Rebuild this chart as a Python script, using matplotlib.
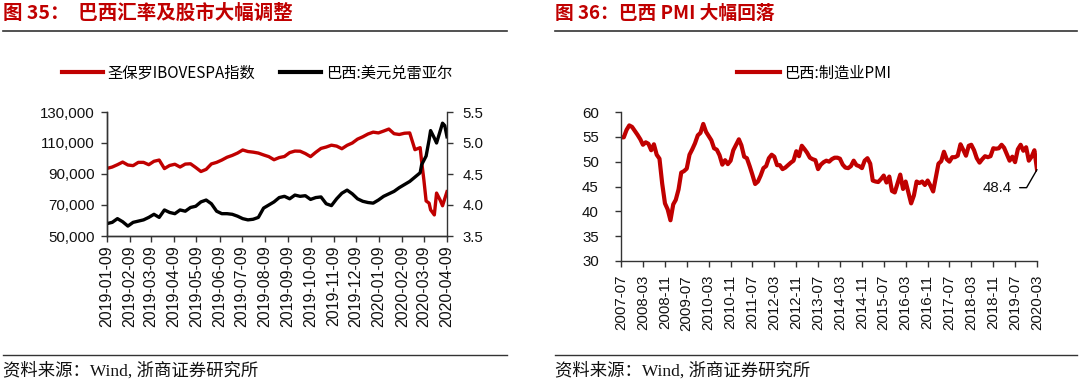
import matplotlib
matplotlib.use('Agg')
import matplotlib.pyplot as plt
import matplotlib.dates as mdates
from matplotlib.lines import Line2D
from matplotlib.ticker import FuncFormatter, FixedLocator
import pandas as pd
import numpy as np

W, H = 1080, 385
RED = '#C00000'
AXC = '#333333'
TICK_FONT = 'Liberation Sans'
CJK = 'Noto Sans CJK SC'
TS = 10.8  # tick label size (pt)

# ---------------- Left chart data ----------------
left_title = '图 35：  巴西汇率及股市大幅调整'
left_series_names = ['圣保罗IBOVESPA指数', '巴西:美元兑雷亚尔']
weekly_dates = pd.date_range('2019-01-09', periods=61, freq='7D')
crash_dates = pd.to_datetime(['2020-03-06', '2020-03-09', '2020-03-12', '2020-03-16',
                              '2020-03-18', '2020-03-23', '2020-03-26', '2020-03-31',
                              '2020-04-03', '2020-04-06', '2020-04-09'])
ibov_weekly_k = [93.6, 94.5, 96.0, 97.7, 95.8, 95.4, 97.5, 97.5, 96.0, 98.2,
                 99.0, 93.5, 95.5, 96.3, 94.5, 96.4, 96.6, 94.2, 91.6, 93.0,
                 96.5, 97.5, 99.0, 100.8, 102.0, 103.5, 105.5, 104.5, 104.1, 103.5,
                 102.3, 101.2, 99.2, 100.6, 101.3, 103.8, 104.8, 104.7, 103.2, 101.2,
                 104.0, 106.5, 107.4, 108.6, 108.0, 106.3, 108.5, 110.0, 112.5, 114.0,
                 115.8, 117.0, 116.5, 117.7, 119.0, 116.0, 115.5, 116.3, 116.5, 105.7,
                 107.0]
ibov_crash_k = [98.0, 86.1, 72.6, 71.2, 66.9, 63.6, 77.7, 73.0, 69.5, 74.1, 78.6]
brl_weekly = [3.70, 3.72, 3.78, 3.73, 3.66, 3.72, 3.74, 3.76, 3.80, 3.85,
              3.80, 3.92, 3.88, 3.86, 3.92, 3.90, 3.96, 3.98, 4.05, 4.08,
              4.02, 3.90, 3.86, 3.86, 3.85, 3.82, 3.78, 3.76, 3.77, 3.80,
              3.95, 4.00, 4.05, 4.12, 4.14, 4.10, 4.16, 4.14, 4.15, 4.09,
              4.12, 4.13, 4.02, 3.99, 4.10, 4.19, 4.24, 4.18, 4.10, 4.06,
              4.04, 4.03, 4.08, 4.14, 4.18, 4.22, 4.28, 4.33, 4.38, 4.45,
              4.52]
brl_crash = [4.65, 4.72, 4.79, 5.05, 5.20, 5.08, 5.00, 5.20, 5.32, 5.28, 5.10]
left_y1_ticks = [50000, 70000, 90000, 110000, 130000]
left_y2_ticks = [3.5, 4.0, 4.5, 5.0, 5.5]
left_x_ticks = pd.date_range('2019-01-01', periods=16, freq='MS') + pd.Timedelta(days=8)

# ---------------- Right chart data ----------------
right_title = '图 36：巴西 PMI 大幅回落'
right_series_name = '巴西:制造业PMI'
pmi_dates = pd.date_range('2007-07-01', periods=153, freq='MS')
pmi = [54.9, 54.9, 56.4, 57.3, 57.0, 56.2, 55.4, 54.5, 53.4, 53.9,
       53.6, 52.3, 53.5, 51.4, 50.6, 45.6, 41.6, 40.4, 38.2, 41.4,
       42.3, 44.4, 47.8, 48.1, 48.6, 51.4, 52.5, 53.7, 55.3, 55.8,
       57.6, 56.0, 55.2, 54.3, 52.7, 52.4, 51.3, 49.4, 50.3, 49.5,
       50.2, 52.3, 53.4, 54.5, 53.3, 51.0, 50.7, 49.1, 47.4, 45.5,
       46.0, 47.2, 48.7, 49.1, 50.7, 51.4, 51.0, 49.3, 49.3, 48.5,
       48.8, 49.3, 49.8, 50.2, 52.1, 51.1, 53.2, 52.5, 51.8, 50.8,
       50.5, 50.3, 48.5, 49.4, 49.9, 50.2, 50.0, 50.5, 50.8, 50.8,
       50.6, 49.4, 48.8, 48.7, 49.1, 50.2, 49.3, 49.1, 48.7, 50.2,
       50.7, 49.6, 46.2, 46.0, 45.9, 46.5, 47.2, 45.8, 47.0, 44.1,
       43.8, 45.6, 47.4, 44.5, 46.0, 43.8, 41.6, 43.2, 46.0, 45.7,
       46.0, 45.3, 46.2, 45.2, 44.0, 46.9, 49.6, 50.1, 52.0, 50.5,
       50.0, 50.9, 50.9, 51.2, 53.5, 52.4, 51.2, 53.2, 53.4, 52.3,
       50.7, 49.8, 50.5, 51.1, 50.9, 51.1, 52.7, 52.6, 52.7, 53.4,
       52.8, 51.5, 50.2, 51.0, 49.9, 52.5, 53.4, 52.2, 52.9, 50.2,
       51.0, 52.3, 48.4]
right_y_ticks = [30, 35, 40, 45, 50, 55, 60]
right_x_ticks = pmi_dates[::8]

source_text = '资料来源：Wind, 浙商证券研究所'

# ---------------- Figure ----------------
fig = plt.figure(figsize=(W / 100, H / 100), dpi=100)
fig.patch.set_facecolor('white')


def fx(px):
    return px / W


def fy(py):
    return 1 - py / H


def style_ticks(ax, axis, pad, size=TS):
    ax.tick_params(axis=axis, direction='out', length=4, width=1, color=AXC,
                   labelsize=size, labelcolor='#111111', pad=pad)


# ----- Left chart -----
ax1 = fig.add_axes([fx(107), fy(236), fx(340), 124 / H])
ax2 = ax1.twinx()
ibov_dates = weekly_dates.append(crash_dates)
ibov = np.array(ibov_weekly_k + ibov_crash_k) * 1000
brl = np.array(brl_weekly + brl_crash)
l1, = ax1.plot(ibov_dates, ibov, color=RED, lw=2.4, solid_joinstyle='round')
l2, = ax2.plot(ibov_dates, brl, color='black', lw=2.4, solid_joinstyle='round')
ax1.set_ylim(50000, 130000)
ax2.set_ylim(3.5, 5.5)
ax1.set_xlim(left_x_ticks[0], left_x_ticks[-1])
ax1.set_yticks(left_y1_ticks)
ax1.yaxis.set_major_formatter(FuncFormatter(lambda v, p: f'{int(v):,}'))
ax2.set_yticks(left_y2_ticks)
ax2.yaxis.set_major_formatter(FuncFormatter(lambda v, p: f'{v:.1f}'))
ax1.set_xticks(left_x_ticks)
ax1.set_xticklabels([d.strftime('%Y-%m-%d') for d in left_x_ticks], rotation=90)
for a in (ax1, ax2):
    a.spines['top'].set_visible(False)
    for s in a.spines.values():
        s.set_color(AXC)
        s.set_linewidth(1)
ax1.spines['right'].set_visible(False)
style_ticks(ax1, 'y', 5)
style_ticks(ax1, 'x', 3, size=11.5)
style_ticks(ax2, 'y', 7)
for a in (ax1, ax2):
    for t in a.get_xticklabels() + a.get_yticklabels():
        t.set_fontfamily(TICK_FONT)

leg1 = fig.legend([l1, l2], left_series_names, loc='center left',
                  bbox_to_anchor=(fx(62), fy(73)), bbox_transform=fig.transFigure,
                  ncol=2, frameon=False, borderpad=0, borderaxespad=0,
                  handlelength=2.7, handletextpad=0.3, columnspacing=1.6,
                  prop={'family': CJK, 'size': 11})
for h in leg1.get_lines():
    h.set_linewidth(3)

# ----- Right chart -----
ax3 = fig.add_axes([fx(621), fy(261), fx(416), 149 / H])
l3, = ax3.plot(pmi_dates, pmi, color=RED, lw=3.0, solid_joinstyle='round')
ax3.set_ylim(30, 60)
ax3.set_yticks(right_y_ticks)
ax3.set_xlim(pmi_dates[0], pmi_dates[-1])
ax3.set_xticks(right_x_ticks)
ax3.set_xticklabels([d.strftime('%Y-%m') for d in right_x_ticks], rotation=90)
for s in ('top', 'right'):
    ax3.spines[s].set_visible(False)
for s in ax3.spines.values():
    s.set_color(AXC)
    s.set_linewidth(1)
style_ticks(ax3, 'y', 12)
style_ticks(ax3, 'x', 6)
for t in ax3.get_xticklabels() + ax3.get_yticklabels():
    t.set_fontfamily(TICK_FONT)

ax3.annotate(f'{pmi[-1]:.1f}', xy=(pmi_dates[-1], pmi[-1]), xytext=(-18, -13),
             textcoords='offset points', ha='right', va='center',
             fontsize=TS, family=TICK_FONT, color='#111111',
             arrowprops=dict(arrowstyle='-', color='black', lw=1,
                             connectionstyle='angle,angleA=0,angleB=60,rad=0',
                             shrinkA=3.5, shrinkB=0))

leg2 = fig.legend([l3], [right_series_name], loc='center left',
                  bbox_to_anchor=(fx(737), fy(73)), bbox_transform=fig.transFigure,
                  frameon=False, borderpad=0, borderaxespad=0,
                  handlelength=2.8, handletextpad=0.3,
                  prop={'family': CJK, 'size': 11})
for h in leg2.get_lines():
    h.set_linewidth(3)

# ----- Titles, rules, sources -----
fig.text(fx(3), fy(13), left_title, color=RED, fontsize=14, fontweight='bold',
         family=CJK, ha='left', va='center')
fig.text(fx(555), fy(13), right_title, color=RED, fontsize=13.5, fontweight='bold',
         family=CJK, ha='left', va='center')
for x0, x1 in ((3, 507), (555, 1077)):
    fig.add_artist(Line2D([fx(x0), fx(x1)], [fy(31), fy(31)], color=AXC, lw=1.2))
    fig.add_artist(Line2D([fx(x0), fx(x1)], [fy(355), fy(355)], color=AXC, lw=1.0))
fig.text(fx(3), fy(371), source_text, fontsize=12.5,
         family=['Liberation Serif', CJK], color='#111111', ha='left', va='center')
fig.text(fx(555), fy(371), source_text, fontsize=12.5,
         family=['Liberation Serif', CJK], color='#111111', ha='left', va='center')

fig.savefig('out.png', dpi=100, facecolor='white')
